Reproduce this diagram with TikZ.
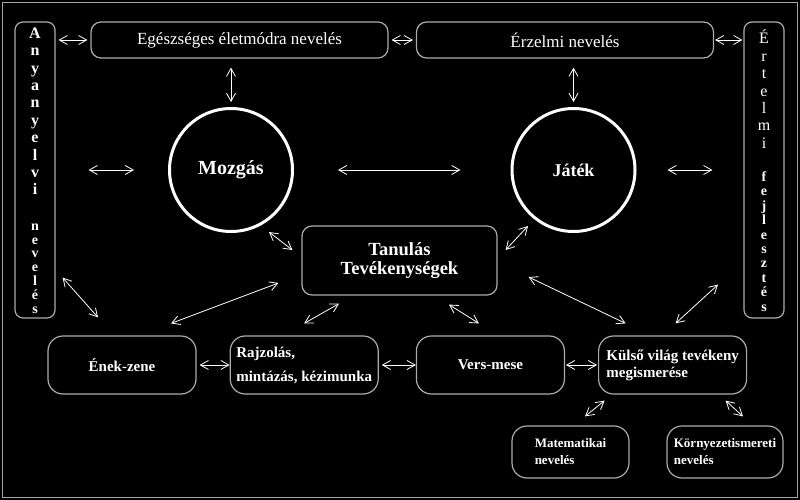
\documentclass[tikz,border=0pt]{standalone}
\usepackage{fontspec}
\setmainfont{Liberation Serif}
\usetikzlibrary{arrows.meta,positioning}

\tikzset{
  box/.style={draw=gray!65, line width=1.2pt, rounded corners=10pt, text=white,
    align=center, inner sep=0pt},
  vbox/.style={box, rounded corners=8pt, minimum width=40pt, minimum height=296pt},
  vtext/.style={text=white, align=center, inner sep=0pt, anchor=north},
  topbox/.style={box, minimum width=297pt, minimum height=36pt,
    font=\fontsize{17}{20}\selectfont},
  ring/.style={circle, draw=white, line width=3pt, minimum size=123pt, text=white,
    font=\bfseries\fontsize{20}{24}\selectfont},
  rowbox/.style={box, rounded corners=15pt, minimum width=148pt, minimum height=58pt,
    font=\bfseries\fontsize{15}{17}\selectfont},
  smallbox/.style={box, rounded corners=15pt, minimum width=117pt, minimum height=52pt,
    align=left, font=\bfseries\fontsize{13}{17}\selectfont},
  link/.style={white, line width=0.8pt,
    {Straight Barb[length=8pt,width=9pt]}-{Straight Barb[length=8pt,width=9pt]}}
}

\begin{document}
\begin{tikzpicture}[x=1pt,y=-1pt]
  \useasboundingbox (0,0) rectangle (800,500);
  \fill[black] (0,0) rectangle (800,500);
  \draw[gray!70, line width=1pt] (2.5,2.5) rectangle (797,497.5);

  \node[vbox] (Anya) at (35,170) {};
  \node[vtext, font=\bfseries\fontsize{16}{17.4}\selectfont] (Anya1) at (35,27.5)
    {A\\n\\y\\a\\n\\y\\e\\l\\v\\i};
  \node[vtext, font=\bfseries\fontsize{14}{13.8}\selectfont, below=28.5pt of Anya1] (Anya2)
    {n\\e\\v\\e\\l\\é\\s};
  \node[vbox] (Ertel) at (764,170) {};
  \node[vtext, font=\fontsize{16}{17.4}\selectfont] (Ertel1) at (764,30)
    {É\\r\\t\\e\\l\\m\\i};
  \node[vtext, font=\bfseries\fontsize{14}{14.4}\selectfont, below=23pt of Ertel1] (Ertel2)
    {f\\e\\j\\l\\e\\s\\z\\t\\é\\s};

  \node[topbox] (Eges) at (239.5,40) {Egészséges életmódra nevelés};
  \node[topbox] (Erzelmi) at (565,40) {Érzelmi nevelés};
  \node[ring] (Mozgas) at (231,170) {Mozgás};
  \node[ring, font=\bfseries\fontsize{18}{22}\selectfont] (Jatek) at (573.5,170) {Játék};
  \node[box, minimum width=195pt, minimum height=69pt,
    font=\bfseries\fontsize{18.5}{19}\selectfont] (Tanul) at (399.5,260.5) {Tanulás\\Tevékenységek};

  \node[rowbox] (Enek) at (122,365) {Ének-zene};
  \node[rowbox, align=left, font=\bfseries\fontsize{15}{24}\selectfont, right=33pt of Enek] (Rajz)
    {Rajzolás,\\mintázás, kézimunka};
  \node[rowbox, right=37pt of Rajz] (Vers) {Vers-mese};
  \node[rowbox, align=left, right=33pt of Vers] (Kulso) {Külső világ tevékeny\\megismerése};
  \node[smallbox] (Mat) at (570.5,452) {Matematikai\\nevelés};
  \node[smallbox, minimum width=116pt] (Korny) at (725,452) {Környezetismereti\\nevelés};

  \draw[link, shorten <=3pt, shorten >=3pt] (Anya.east |- Eges.west) -- (Eges.west);
  \draw[link, shorten <=3pt, shorten >=3pt] (Eges) -- (Erzelmi);
  \draw[link, shorten <=1pt, shorten >=1pt] (Erzelmi) -- (Erzelmi -| Ertel.west);
  \draw[link, shorten <=9pt, shorten >=5pt] (Mozgas.north |- Eges.south) -- (Mozgas.north);
  \draw[link, shorten <=9pt, shorten >=5pt] (Jatek.north |- Erzelmi.south) -- (Jatek.north);
  \draw[link, shorten <=33pt, shorten >=34pt] (Anya.east |- Mozgas) -- (Mozgas.west);
  \draw[link, shorten <=44pt, shorten >=50pt] (Mozgas) -- (Jatek);
  \draw[link, shorten <=31pt, shorten >=31pt] (Jatek) -- (Jatek -| Ertel.west);

  \draw[link] ([shift={(38,-1)}]Mozgas.south) -- ([shift={(-9,-10.5)}]Tanul.west);
  \draw[link] ([shift={(-45.5,-7)}]Jatek.south) -- ([shift={(8,-10.5)}]Tanul.east);
  \draw[link] ([shift={(7,-41)}]Anya.south east) -- ([shift={(-24,-18)}]Enek.north);
  \draw[link] ([shift={(-23,22.5)}]Tanul.west) -- ([shift={(49,-12)}]Enek.north);
  \draw[link] ([shift={(-60.5,8)}]Tanul.south) -- ([shift={(0,-12)}]Rajz.north);
  \draw[link] ([shift={(49.5,9)}]Tanul.south) -- ([shift={(-11.5,-12)}]Vers.north);
  \draw[link] ([shift={(31,16.5)}]Tanul.east) -- ([shift={(-47,-12)}]Kulso.north);
  \draw[link] ([shift={(-46,-34)}]Ertel.south) -- ([shift={(3,-12)}]Kulso.north);
  \draw[link] ([shift={(-68,6)}]Kulso.south) -- ([shift={(14.5,-9)}]Mat.north);
  \draw[link] ([shift={(53,6)}]Kulso.south) -- ([shift={(18,-9)}]Korny.north);

  \draw[link, shorten <=3pt] (Enek) -- (Rajz);
  \draw[link, shorten <=3pt] (Rajz) -- (Vers);
  \draw[link, shorten <=1pt, shorten >=1pt] (Vers) -- (Kulso);
\end{tikzpicture}
\end{document}
